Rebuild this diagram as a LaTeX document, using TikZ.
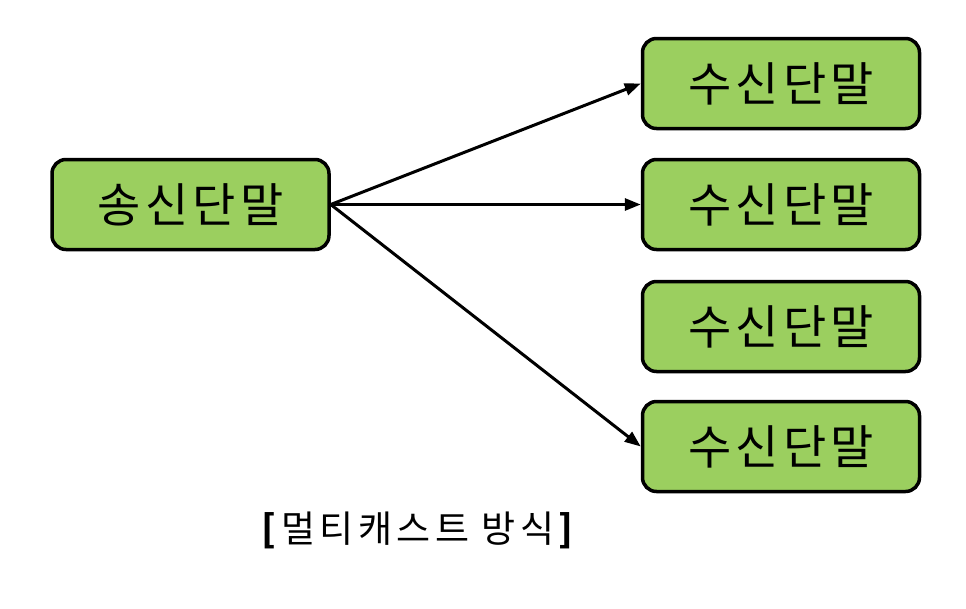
\documentclass[tikz,border=0pt]{standalone}
\usepackage{fontspec}
\newfontfamily\cjk[LetterSpace=9]{Noto Sans CJK KR}
\newfontfamily\cjkcap[LetterSpace=12]{Noto Sans CJK KR}
\usetikzlibrary{arrows.meta}
\definecolor{boxgreen}{RGB}{155,207,95}
\tikzset{
  term/.style={draw=black, line width=3.5pt, fill=boxgreen, rounded corners=14pt,
    minimum width=277pt, minimum height=90pt, inner sep=0pt,
    font=\cjk\fontsize{47}{50}\selectfont},
  conn/.style={line width=3pt, -{Triangle[length=16pt,width=12pt]}}
}
\begin{document}
\begin{tikzpicture}[x=1pt,y=-1pt]
\useasboundingbox (0,0) rectangle (966,608);
\node[term] (s) at (190.5,204.5) {송신단말};
\node[term] (r1) at (781,83.5) {수신단말};
\node[term] (r2) at (781,204.5) {수신단말};
\node[term] (r3) at (781,326.5) {수신단말};
\node[term] (r4) at (781,446.5) {수신단말};
\draw[conn] (s.east) -- (r1.west);
\draw[conn] (s.east) -- (r2.west);
\draw[conn] (s.east) -- (r4.west);
\node[font=\cjkcap\fontsize{37}{40}\selectfont, inner sep=0pt] (cap) at (420,530)
  {\textbf{[}멀티캐스트 방식\textbf{]}};
\end{tikzpicture}
\end{document}
